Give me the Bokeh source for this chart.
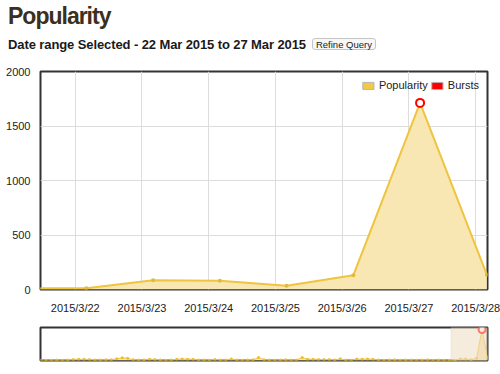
import pandas as pd
from bokeh.plotting import figure
from bokeh.models import (Div, Range1d, FixedTicker, Legend, LegendItem,
                          BoxAnnotation, ColumnDataSource)
from bokeh.layouts import column
from bokeh.embed import file_html
from bokeh.resources import INLINE

# ---------------- data ----------------
start_date = "2015-01-05 04:00"
popularity = [20, 15, 18, 22, 17, 25,
              60, 70, 65, 55,
              30, 25, 35, 40,
              90, 150, 120,
              45, 30, 25,
              75, 60,
              30, 20, 25,
              70, 80, 75, 65,
              30, 25, 20,
              60,
              25, 30, 85,
              30, 20, 25, 35,
              170,
              40, 25, 20,
              30, 35, 25, 30,
              160,
              70, 65, 60, 55, 60, 30,
              90,
              25, 20,
              80, 75, 85, 70,
              30, 20, 25, 35, 20, 25, 30, 20, 25, 35, 20, 25, 15,
              10, 12, 85, 80, 35, 130, 1712, 136]
dates = pd.date_range(start_date, periods=len(popularity), freq="D")

burst_dates = [pd.Timestamp("2015-03-27 04:00")]
burst_values = [1712]

tick_dates = ["2015-03-22", "2015-03-23", "2015-03-24", "2015-03-25",
              "2015-03-26", "2015-03-27", "2015-03-28"]
tick_labels = ["2015/3/22", "2015/3/23", "2015/3/24", "2015/3/25",
               "2015/3/26", "2015/3/27", "2015/3/28"]
y_ticks = [0, 500, 1000, 1500, 2000]

view_start = pd.Timestamp("2015-03-21 11:30")
view_end = pd.Timestamp("2015-03-28 04:15")

LINE = "#efc43f"
FILL = "#f8e7b2"
DOT = "#e3b93c"
FONT = "Liberation Sans"

src = ColumnDataSource(dict(x=dates, y=popularity, y0=[0] * len(popularity)))
bsrc = ColumnDataSource(dict(x=burst_dates, y=burst_values))

# ---------------- header ----------------
header_html = """
<div style="box-sizing:border-box;width:500px;height:63px;padding:8px 0 0 8px;margin:0;font-family:'Liberation Sans',Arial,sans-serif;">
 <div style="height:17px;font-size:23px;line-height:17px;font-weight:bold;color:#3b2f20;letter-spacing:-1px;white-space:nowrap;margin:0;padding:0;">Popularity</div>
 <div style="margin:12px 0 0 0;padding:0;height:16px;font-size:13px;line-height:16px;font-weight:bold;color:#1a1a1a;letter-spacing:-0.1px;white-space:nowrap;">Date range Selected - 22 Mar 2015 to 27 Mar 2015<span style="display:inline-block;margin-left:6px;width:64px;height:12px;border:1px solid #c4c4c4;border-radius:3px;background:#f7f7f7;font-size:9.5px;line-height:12px;font-weight:normal;letter-spacing:0;text-align:center;color:#222;vertical-align:1px;">Refine Query</span></div>
</div>
"""
header = Div(text=header_html, width=500, height=63, margin=0)

# ---------------- main chart ----------------
p = figure(width=500, height=253, x_axis_type="datetime",
           x_range=Range1d(view_start, view_end), y_range=Range1d(0, 2000),
           output_backend="svg", toolbar_location=None,
           min_border_left=37, min_border_right=13, min_border_top=8,
           min_border_bottom=25, margin=0)

p.varea(x="x", y1="y0", y2="y", source=src, fill_color=FILL, fill_alpha=1)
p.line(x="x", y="y", source=src, line_color=LINE, line_width=2)
p.scatter(x="x", y="y", source=src, size=4, fill_color=DOT, line_color=None)

# zero-size quads that only serve as legend swatches
pop_swatch = p.quad(left="x", right="x", top="y", bottom="y", source=src,
                    fill_color="#f2c846", line_color="#b5b5b5")
burst_swatch = p.quad(left="x", right="x", top="y", bottom="y", source=bsrc,
                      fill_color="#ff0000", line_color="#b5b5b5")

p.scatter(x="x", y="y", source=bsrc, size=8, fill_color="white",
          line_color="#ff0000", line_width=2)

tick_ms = [pd.Timestamp(d).value / 1e6 for d in tick_dates]
p.xaxis.ticker = FixedTicker(ticks=tick_ms)
p.xaxis.major_label_overrides = {t: l for t, l in zip(tick_ms, tick_labels)}
p.yaxis.ticker = FixedTicker(ticks=y_ticks)

for ax in (p.xaxis, p.yaxis):
    ax.axis_line_color = None
    ax.major_tick_line_color = None
    ax.minor_tick_line_color = None
    ax.major_label_text_font = FONT
    ax.major_label_text_font_size = "11px"
    ax.major_label_text_color = "#222222"
p.xaxis.major_label_standoff = 6
p.yaxis.major_label_standoff = 4

p.xgrid.grid_line_color = "#dddddd"
p.ygrid.grid_line_color = "#dddddd"
p.outline_line_color = "#333333"
p.outline_line_width = 2

legend = Legend(items=[LegendItem(label="Popularity", renderers=[pop_swatch]),
                       LegendItem(label="Bursts", renderers=[burst_swatch])],
                location="top_right", orientation="horizontal",
                border_line_color=None, background_fill_alpha=0,
                padding=0, margin=8, spacing=2, glyph_width=14,
                glyph_height=9, label_height=12, label_standoff=4,
                label_text_font_size="11px", label_text_font=FONT,
                label_text_color="#222222")
p.add_layout(legend)

# ---------------- navigator ----------------
n = figure(width=500, height=48, x_axis_type="datetime",
           x_range=Range1d(dates[0], dates[-1]), y_range=Range1d(0, 1820),
           output_backend="svg", toolbar_location=None,
           x_axis_location=None, y_axis_location=None,
           min_border_left=40, min_border_right=13, min_border_top=11,
           min_border_bottom=4, margin=0)
n.xgrid.visible = False
n.ygrid.visible = False
n.outline_line_color = "#333333"
n.outline_line_width = 2

n.add_layout(BoxAnnotation(left=view_start, right=view_end, fill_color="#ecdcc2",
                           fill_alpha=0.55, line_color="#d8c6a8", line_width=1))
n.varea(x="x", y1="y0", y2="y", source=src, fill_color=FILL, fill_alpha=1)
n.line(x="x", y="y", source=src, line_color=LINE, line_width=1)
n.scatter(x="x", y="y", source=src, size=3, fill_color="#f0c020", line_color=None)
n.scatter(x="x", y="y", source=bsrc, size=7, fill_color="white",
          line_color="#ff0000", line_width=2)

layout = column(header, p, n, spacing=0, margin=0)
open("out.html", "w").write(file_html(layout, INLINE))
